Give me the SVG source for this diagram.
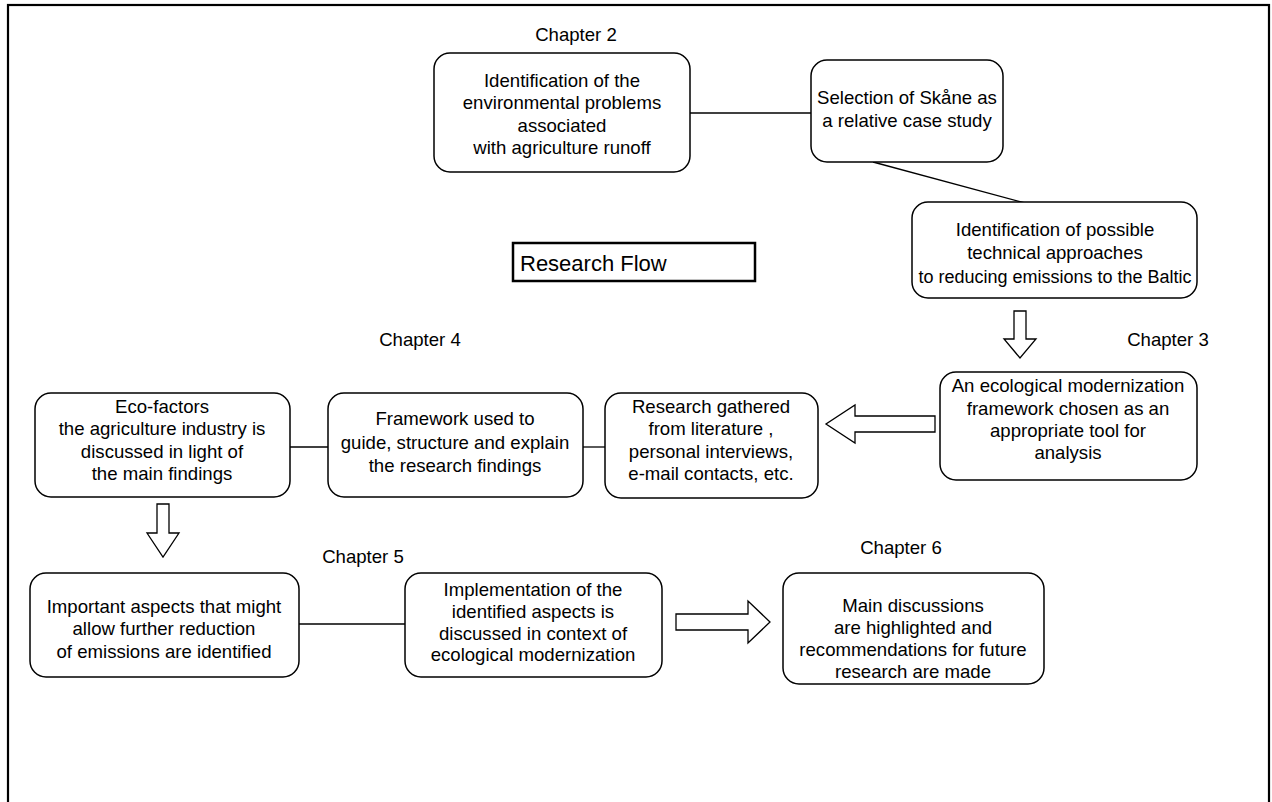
<svg xmlns="http://www.w3.org/2000/svg" width="1272" height="802" viewBox="0 0 1272 802">
  <style>
    text { font-family: "Liberation Sans", Arial, sans-serif; font-size: 18.6px; fill: #000; }
    .c { text-anchor: middle; }
    .box { fill: #fff; stroke: #000; stroke-width: 1.5; }
    .link { stroke: #000; stroke-width: 1.3; fill: none; }
    .blk { fill: #fff; stroke: #000; stroke-width: 1.3; stroke-linejoin: miter; }
  </style>
  <rect x="0" y="0" width="1272" height="802" fill="#fff"/>
  <!-- page frame -->
  <rect x="8" y="5" width="1261" height="820" fill="none" stroke="#000" stroke-width="2.2"/>

  <!-- connectors -->
  <g id="connectors">
    <line class="link" x1="690" y1="113" x2="811" y2="113"/>
    <line class="link" x1="873" y1="162" x2="1025" y2="203"/>
    <line class="link" x1="583" y1="447" x2="605" y2="447"/>
    <line class="link" x1="290" y1="447" x2="328" y2="447"/>
    <line class="link" x1="299" y1="624" x2="405" y2="624"/>
    <!-- hollow block arrows -->
    <path class="blk" d="M1014,311 H1026 V339 H1036 L1020,358 L1004,339 H1014 Z"/>
    <path class="blk" d="M935,416 V432 H855 V443 L826,424 L855,405 V416 Z"/>
    <path class="blk" d="M157,504 H169 V533 H179 L163,557 L147,533 H157 Z"/>
    <path class="blk" d="M676,614 H748 V601 L770,622 L748,643 V630 H676 Z"/>
  </g>

  <text class="c" x="576" y="41">Chapter 2</text>
  <text class="c" x="1168" y="346">Chapter 3</text>
  <text class="c" x="420" y="346">Chapter 4</text>
  <text class="c" x="363" y="563">Chapter 5</text>
  <text class="c" x="901" y="554">Chapter 6</text>

  <g id="title">
    <rect x="513" y="243" width="242" height="38" fill="#fff" stroke="#000" stroke-width="2.5"/>
    <text x="520" y="271" style="font-size:22px">Research Flow</text>
  </g>

  <g id="problems">
    <rect class="box" x="434" y="53" width="256" height="119" rx="16"/>
    <text class="c" x="562" y="87">Identification of the</text>
    <text class="c" x="562" y="109">environmental problems</text>
    <text class="c" x="562" y="132">associated</text>
    <text class="c" x="562" y="154">with agriculture runoff</text>
  </g>

  <g id="case-study">
    <rect class="box" x="811" y="60" width="192" height="102" rx="16"/>
    <text class="c" x="907" y="104">Selection of Skåne as</text>
    <text class="c" x="907" y="127">a relative case study</text>
  </g>

  <g id="approaches">
    <rect class="box" x="912" y="202" width="285" height="96" rx="16"/>
    <text class="c" x="1055" y="236">Identification of possible</text>
    <text class="c" x="1055" y="259">technical approaches</text>
    <text class="c" x="1055" y="283" style="font-size:18px">to reducing emissions to the Baltic</text>
  </g>

  <g id="framework-choice">
    <rect class="box" x="940" y="372" width="257" height="108" rx="16"/>
    <text class="c" x="1068" y="392">An ecological modernization</text>
    <text class="c" x="1068" y="415">framework chosen as an</text>
    <text class="c" x="1068" y="437">appropriate tool for</text>
    <text class="c" x="1068" y="459">analysis</text>
  </g>

  <g id="research-gathered">
    <rect class="box" x="605" y="393" width="213" height="105" rx="16"/>
    <text class="c" x="711" y="413">Research gathered</text>
    <text class="c" x="711" y="435">from literature ,</text>
    <text class="c" x="711" y="458">personal interviews,</text>
    <text class="c" x="711" y="480">e-mail contacts, etc.</text>
  </g>

  <g id="framework-used">
    <rect class="box" x="328" y="393" width="255" height="104" rx="16"/>
    <text class="c" x="455" y="425">Framework used to</text>
    <text class="c" x="455" y="449">guide, structure and explain</text>
    <text class="c" x="455" y="472">the research findings</text>
  </g>

  <g id="eco-factors">
    <rect class="box" x="35" y="393" width="255" height="104" rx="16"/>
    <text class="c" x="162" y="413">Eco-factors</text>
    <text class="c" x="162" y="435">the agriculture industry is</text>
    <text class="c" x="162" y="458">discussed in light of</text>
    <text class="c" x="162" y="480">the main findings</text>
  </g>

  <g id="important-aspects">
    <rect class="box" x="30" y="573" width="269" height="104" rx="16"/>
    <text class="c" x="164" y="613">Important aspects that might</text>
    <text class="c" x="164" y="635">allow further reduction</text>
    <text class="c" x="164" y="658">of emissions are identified</text>
  </g>

  <g id="implementation">
    <rect class="box" x="405" y="573" width="257" height="104" rx="16"/>
    <text class="c" x="533" y="596">Implementation of the</text>
    <text class="c" x="533" y="618">identified aspects is</text>
    <text class="c" x="533" y="640">discussed in context of</text>
    <text class="c" x="533" y="661">ecological modernization</text>
  </g>

  <g id="conclusions">
    <rect class="box" x="783" y="573" width="261" height="111" rx="16"/>
    <text class="c" x="913" y="612">Main discussions</text>
    <text class="c" x="913" y="634">are highlighted and</text>
    <text class="c" x="913" y="656">recommendations for future</text>
    <text class="c" x="913" y="678">research are made</text>
  </g>
</svg>
